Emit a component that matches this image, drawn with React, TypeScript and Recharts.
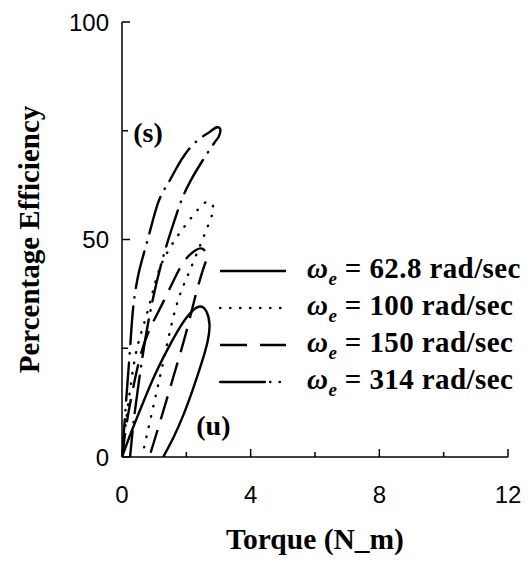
import { LineChart, Line, XAxis, YAxis, ReferenceDot, Label } from 'recharts';

const torqueTicks = [0, 2, 4, 6, 8, 10, 12];
const torqueLabels = [0, 4, 8, 12];
const effTicks = [0, 25, 50, 75, 100];
const effLabels = [0, 50, 100];

// each curve: upper (s) branch out to the tip, then back down the lower (u) branch
const w628 = [
  { x: 0, y: 0 }, { x: 0.25, y: 5 }, { x: 0.6, y: 11.5 }, { x: 1.0, y: 18.5 },
  { x: 1.4, y: 24.5 }, { x: 1.8, y: 29.8 }, { x: 2.15, y: 33.3 }, { x: 2.42, y: 34.6 },
  { x: 2.62, y: 33.5 }, { x: 2.72, y: 30.5 }, { x: 2.66, y: 26.5 }, { x: 2.47, y: 21.5 },
  { x: 2.2, y: 15.5 }, { x: 1.9, y: 9.5 }, { x: 1.6, y: 4.5 }, { x: 1.28, y: 0 },
];
const w100 = [
  { x: 0, y: 0 }, { x: 0.12, y: 8 }, { x: 0.3, y: 18 }, { x: 0.5, y: 26 },
  { x: 0.78, y: 33 }, { x: 1.03, y: 40 }, { x: 1.3, y: 45.5 }, { x: 1.7, y: 50.5 },
  { x: 2.1, y: 54.5 }, { x: 2.5, y: 58 }, { x: 2.75, y: 58.6 }, { x: 2.85, y: 57 },
  { x: 2.8, y: 55.6 }, { x: 2.66, y: 52.9 }, { x: 2.45, y: 49 }, { x: 2.03, y: 41.5 },
  { x: 1.66, y: 34 }, { x: 1.3, y: 22.5 }, { x: 1.0, y: 12.5 }, { x: 0.62, y: 0 },
];
const w150 = [
  { x: 0, y: 0 }, { x: 0.15, y: 8 }, { x: 0.35, y: 16 }, { x: 0.6, y: 24 },
  { x: 0.9, y: 30 }, { x: 1.28, y: 35.6 }, { x: 1.72, y: 42.3 }, { x: 2.02, y: 45.8 },
  { x: 2.3, y: 47.6 }, { x: 2.52, y: 47.8 }, { x: 2.64, y: 46.2 }, { x: 2.56, y: 44.0 },
  { x: 2.3, y: 37.5 }, { x: 2.0, y: 28.8 }, { x: 1.6, y: 18.5 }, { x: 1.2, y: 8.5 },
  { x: 0.85, y: 0 },
];
const w314 = [
  { x: 0, y: 0 }, { x: 0.08, y: 8 }, { x: 0.18, y: 18 }, { x: 0.27, y: 27 },
  { x: 0.35, y: 34.5 }, { x: 0.52, y: 42.3 }, { x: 0.8, y: 50 }, { x: 1.12, y: 58.4 },
  { x: 1.4, y: 62.5 }, { x: 1.7, y: 66.5 }, { x: 2.0, y: 70.0 }, { x: 2.35, y: 72.8 },
  { x: 2.7, y: 74.6 }, { x: 2.95, y: 75.8 }, { x: 3.06, y: 75.0 }, { x: 3.0, y: 73.5 },
  { x: 2.85, y: 72 }, { x: 2.11, y: 63.2 }, { x: 1.66, y: 55 }, { x: 1.28, y: 46 },
  { x: 0.95, y: 36 }, { x: 0.7, y: 26 }, { x: 0.5, y: 16 }, { x: 0.36, y: 8 },
  { x: 0.25, y: 0 },
];

const speeds = ['62.8', '100', '150', '314'];

const stablePos = { x: 0.81, y: 74.7 };
const unstablePos = { x: 2.84, y: 7.4 };

const SERIF = '"Liberation Serif", "Times New Roman", serif';
const SANS = '"Liberation Sans", Arial, sans-serif';

const series = [
  { key: 'w628', data: w628, dash: undefined, legendDash: undefined, cap: 'butt' },
  { key: 'w100', data: w100, dash: '0.5 10', legendDash: '0.5 9.5', cap: 'round' },
  { key: 'w150', data: w150, dash: '24 11', legendDash: '27 13', cap: 'butt' },
  { key: 'w314', data: w314, dash: '38 9 0.5 9', legendDash: '45 5 0.5 9 0.5 9', cap: 'round' },
];

// legend rows are not evenly spaced
const legendRowHeights = [39, 36, 37, 37];

function XTick({ x, y, payload }: any) {
  const major = torqueLabels.includes(payload.value);
  return (
    <g>
      <line x1={x} y1={y} x2={x} y2={y - (major ? 8 : 5)} stroke="#000" strokeWidth={1.5} />
      {major && (
        <text x={x} y={y + 46} textAnchor="middle" fontFamily={SANS} fontSize={24} fill="#000">
          {payload.value}
        </text>
      )}
    </g>
  );
}

function YTick({ x, y, payload }: any) {
  const major = effLabels.includes(payload.value);
  return (
    <g>
      <line x1={x} y1={y} x2={x + (major ? 8 : 6)} y2={y} stroke="#000" strokeWidth={1.5} />
      {major && (
        <text x={x - 13} y={y + 8.5} textAnchor="end" fontFamily={SANS} fontSize={24} fill="#000">
          {payload.value}
        </text>
      )}
    </g>
  );
}

// legend sits over the plot's empty right side
function SpeedLegend() {
  return (
    <div
      style={{
        position: 'absolute',
        left: 210,
        top: 243,
        fontFamily: SERIF,
        fontWeight: 'bold',
        fontSize: 29,
        letterSpacing: 0.4,
        color: '#000',
      }}
    >
      {series.map((s, i) => (
        <div
          key={s.key}
          style={{ display: 'flex', alignItems: 'center', height: legendRowHeights[i] }}
        >
          <svg width={70} height={10}>
            <line
              x1={2}
              y1={5}
              x2={68}
              y2={5}
              stroke="#000"
              strokeWidth={2.3}
              strokeDasharray={s.legendDash}
              strokeLinecap={s.cap as any}
            />
          </svg>
          <span style={{ marginLeft: 19, whiteSpace: 'nowrap', lineHeight: 1 }}>
            <span style={{ fontStyle: 'italic' }}>ω</span>
            <sub style={{ fontStyle: 'italic', fontSize: 19, verticalAlign: -7 }}>e</sub>
            {' = ' + speeds[i] + ' rad/sec'}
          </span>
        </div>
      ))}
    </div>
  );
}

const cornerLabel = (text: string) => (props: any) => {
  const { viewBox } = props;
  return (
    <text
      x={viewBox.x}
      y={viewBox.y + 10}
      textAnchor="middle"
      fontFamily={SERIF}
      fontWeight="bold"
      fontSize={28}
      fill="#000"
    >
      {text}
    </text>
  );
};

export default function App() {
  return (
    <div style={{ position: 'relative', width: 522, height: 549 }}>
      <LineChart width={522} height={549} margin={{ top: 14, right: 22, bottom: 10, left: 0 }}>
        <XAxis
          type="number"
          dataKey="x"
          domain={[0, 12]}
          ticks={torqueTicks}
          interval={0}
          allowDataOverflow
          tickSize={0}
          tickMargin={0}
          height={90}
          tick={<XTick />}
          axisLine={{ stroke: '#000', strokeWidth: 1.5 }}
        >
          <Label
            content={(p: any) => (
              <text
                x={p.viewBox.x + p.viewBox.width / 2}
                y={p.viewBox.y + 92}
                textAnchor="middle"
                fontFamily={SERIF}
                fontWeight="bold"
                fontSize={29.5}
                fill="#000"
              >
                Torque (N_m)
              </text>
            )}
          />
        </XAxis>
        <YAxis
          type="number"
          dataKey="y"
          domain={[0, 100]}
          ticks={effTicks}
          interval={0}
          allowDataOverflow
          tickSize={0}
          tickMargin={0}
          width={114}
          tick={<YTick />}
          axisLine={{ stroke: '#000', strokeWidth: 1.5 }}
        >
          <Label
            content={(p: any) => {
              const cx = p.viewBox.x + 21;
              const cy = p.viewBox.y + p.viewBox.height / 2;
              return (
                <text
                  x={cx}
                  y={cy}
                  transform={`rotate(-90, ${cx}, ${cy})`}
                  textAnchor="middle"
                  dominantBaseline="central"
                  fontFamily={SERIF}
                  fontWeight="bold"
                  fontSize={29}
                  fill="#000"
                >
                  Percentage Efficiency
                </text>
              );
            }}
          />
        </YAxis>
        {series.map((s) => (
          <Line
            key={s.key}
            data={s.data}
            dataKey="y"
            type="natural"
            stroke="#000"
            strokeWidth={2.4}
            strokeDasharray={s.dash}
            strokeLinecap={s.cap as any}
            dot={false}
            activeDot={false}
            isAnimationActive={false}
          />
        ))}
        <ReferenceDot x={stablePos.x} y={stablePos.y} r={0} label={cornerLabel('(s)')} />
        <ReferenceDot x={unstablePos.x} y={unstablePos.y} r={0} label={cornerLabel('(u)')} />
      </LineChart>
      <SpeedLegend />
    </div>
  );
}
